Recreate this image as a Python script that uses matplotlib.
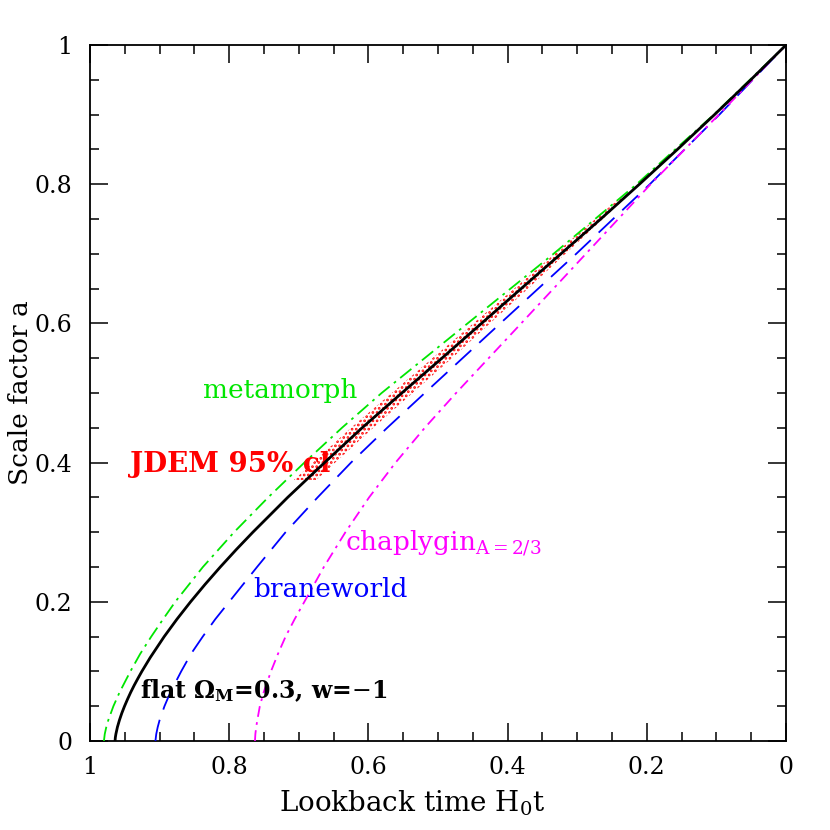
import numpy as np
import matplotlib
matplotlib.use('Agg')
import matplotlib.pyplot as plt
from matplotlib.ticker import MultipleLocator, FuncFormatter

plt.rcParams['font.family'] = 'DejaVu Serif'
plt.rcParams['mathtext.fontset'] = 'dejavuserif'
plt.rcParams['hatch.linewidth'] = 1.3

# flat LCDM, Om=0.3, w=-1
a_lcdm = [0, 0.005, 0.01, 0.02, 0.03, 0.04, 0.05, 0.06, 0.07, 0.08, 0.09, 0.1, 0.12,
          0.15, 0.175, 0.2, 0.225, 0.25, 0.275, 0.3, 0.35, 0.4, 0.45, 0.5, 0.55, 0.6,
          0.65, 0.7, 0.75, 0.8, 0.85, 0.9, 0.95, 1.0]
t_lcdm = [0.964, 0.9636, 0.9628, 0.9606, 0.9577, 0.9543, 0.9504, 0.9461, 0.9415,
          0.9365, 0.9311, 0.9255, 0.9134, 0.8934, 0.8751, 0.8555, 0.8347, 0.8128,
          0.7899, 0.766, 0.716, 0.663, 0.609, 0.552, 0.4944, 0.4375, 0.3805, 0.3234,
          0.2662, 0.2106, 0.156, 0.1027, 0.0506, 0.0]

# other models
a_mod = [0, 0.01, 0.02, 0.03, 0.05, 0.07, 0.1, 0.125, 0.15, 0.175, 0.2, 0.25, 0.3,
         0.35, 0.4, 0.45, 0.5, 0.6, 0.7, 0.8, 0.9, 1.0]
t_meta = [0.980, 0.9788, 0.9766, 0.9737, 0.9664, 0.9575, 0.942, 0.928, 0.912, 0.895,
          0.8775, 0.8378, 0.793, 0.744, 0.692, 0.638, 0.581, 0.4575, 0.334, 0.2146,
          0.1037, 0.0]
t_brane = [0.906, 0.9048, 0.9027, 0.900, 0.893, 0.8845, 0.869, 0.855, 0.838, 0.820,
           0.800, 0.760, 0.719, 0.673, 0.625, 0.573, 0.519, 0.4105, 0.3014, 0.1956,
           0.0957, 0.0]
t_chap = [0.763, 0.7624, 0.7612, 0.7596, 0.756, 0.7505, 0.740, 0.730, 0.719, 0.706,
          0.692, 0.664, 0.633, 0.599, 0.561, 0.519, 0.474, 0.3805, 0.2875, 0.1945,
          0.0965, 0.0]

# JDEM 95% cl band
a_band = [0.375, 0.45, 0.55, 0.65, 0.78]
t_band_lo = [0.675, 0.593, 0.480, 0.3705, 0.2310]
t_band_hi = [0.707, 0.625, 0.508, 0.3905, 0.2390]

fig = plt.figure(figsize=(8.3, 8.3), dpi=100)
ax = fig.add_axes([90/830, 1-741/830, 696/830, 696/830])

ax.fill_betweenx(a_band, t_band_lo, t_band_hi, facecolor='none',
                 edgecolor='red', hatch='....', linewidth=0, zorder=2)

ax.plot(t_meta, a_mod, color='#00e600', lw=1.3, dashes=(8, 3, 1.5, 3), zorder=3)
ax.plot(t_brane, a_mod, color='#0000ff', lw=1.3, dashes=(12, 6), zorder=3)
ax.plot(t_chap, a_mod, color='#ff00ff', lw=1.3, dashes=(6, 3, 1.5, 3), zorder=3)
ax.plot(t_lcdm, a_lcdm, color='black', lw=2.0, zorder=4)

ax.text(0.838, 0.4924, 'metamorph', color='#00e600', fontsize=19, va='baseline')
ax.text(0.9425, 0.387, 'JDEM 95% cl', color='red', fontsize=20, fontweight='bold',
        va='baseline')
ax.text(0.634, 0.2744, r'chaplygin$_{\mathregular{A{=}2/3}}$', color='#ff00ff', fontsize=19,
        va='baseline')
ax.text(0.766, 0.2064, 'braneworld', color='#0000ff', fontsize=19, va='baseline')
ax.text(0.928, 0.0613, r'flat $\mathbf{\Omega_M}$=0.3, w=$-$1', color='black', fontsize=17,
        fontweight='bold', va='baseline')

ax.set_xlim(1, 0)
ax.set_ylim(0, 1)
ax.xaxis.set_major_locator(MultipleLocator(0.2))
ax.xaxis.set_minor_locator(MultipleLocator(0.05))
ax.yaxis.set_major_locator(MultipleLocator(0.2))
ax.yaxis.set_minor_locator(MultipleLocator(0.05))
fmt = FuncFormatter(lambda v, p: '%g' % round(v, 2))
ax.xaxis.set_major_formatter(fmt)
ax.yaxis.set_major_formatter(fmt)
ax.tick_params(which='both', direction='in', top=True, right=True, labelsize=17, width=1.1)
ax.tick_params(which='major', length=13)
ax.tick_params(which='minor', length=6.5)
ax.tick_params(axis='x', which='major', pad=11)
ax.tick_params(axis='y', which='major', pad=12.5)
for s in ax.spines.values():
    s.set_linewidth(1.3)

ax.set_xlabel(r'Lookback time H$_\mathregular{0}$t', fontsize=20)
ax.set_ylabel('Scale factor a', fontsize=19)
ax.xaxis.set_label_coords(0.4626, -0.068)
ax.yaxis.set_label_coords(-0.082, 0.5)

fig.savefig('out.png', dpi=100)
